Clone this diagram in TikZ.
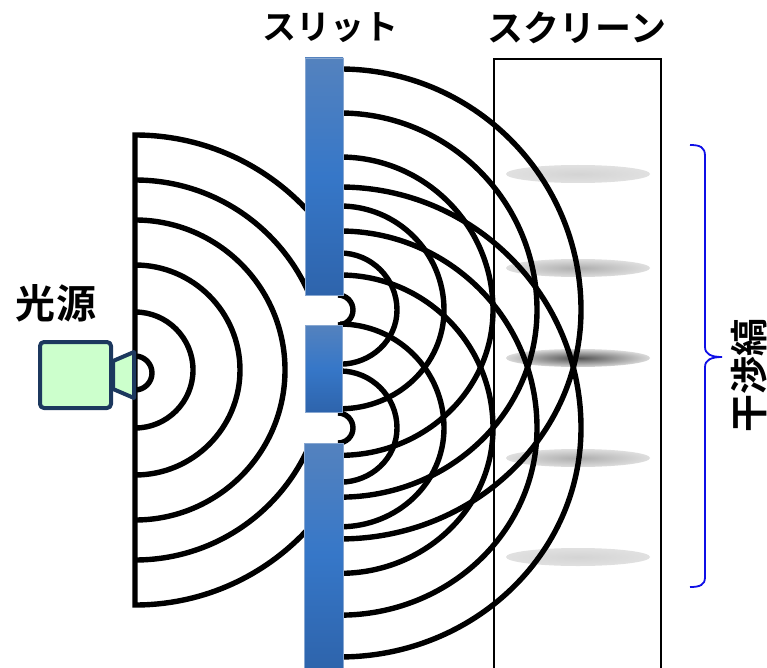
\documentclass[tikz,border=0pt]{standalone}
\usepackage{fontspec}
\newfontfamily\jpfont{Noto Sans CJK JP}[BoldFont={Noto Sans CJK JP Bold}]
\definecolor{barTop}{RGB}{84,130,190}
\definecolor{barMid}{RGB}{54,119,200}
\definecolor{barBot}{RGB}{46,100,172}
\definecolor{lampFill}{RGB}{204,255,204}
\definecolor{lampEdge}{RGB}{28,56,94}
\definecolor{braceBlue}{RGB}{15,15,230}
\begin{document}
\begin{tikzpicture}[x=1pt,y=-1pt,
  wave/.style={line width=5.4pt,black},
  barpiece/.style={top color=barTop,bottom color=barBot,middle color=barMid,draw=barTop!70!white,line width=0.8pt},
  lampbody/.style={fill=lampFill,draw=lampEdge,line width=4pt,line join=round},
  label/.style={font=\jpfont\bfseries\fontsize{34}{40}\selectfont,inner sep=0pt},
  biglabel/.style={label,font=\jpfont\bfseries\fontsize{40}{46}\selectfont},
  fringe/.style={draw=none}]
\useasboundingbox (0,0) rectangle (767,668);

% screen
\node[draw,line width=1.6pt,fill=white,minimum width=167pt,minimum height=610pt,
      inner sep=0pt,anchor=north west] (screen) at (493,58) {};

% interference fringes on the screen
\shade[fringe,inner color=black!17,outer color=black!12] (578,174) ellipse [x radius=72,y radius=9];
\shade[fringe,inner color=black!32,outer color=black!13] (578,268) ellipse [x radius=72,y radius=9];
\shade[fringe,inner color=black!68,outer color=black!15] (578,358) ellipse [x radius=72,y radius=9];
\shade[fringe,inner color=black!32,outer color=black!13] (578,458) ellipse [x radius=72,y radius=9];
\shade[fringe,inner color=black!17,outer color=black!12] (578,557) ellipse [x radius=72,y radius=9];

% wavefronts from the source, cut off at the slit plate
\begin{scope}
  \clip (0,0) rectangle (305,668);
  \draw[wave,line join=miter] (135,605) -- (135,135)
        arc[start angle=-90,end angle=90,radius=235] -- cycle;
  \foreach \r in {58,105,150,190}
    \draw[wave] (135,370-\r) arc[start angle=-90,end angle=90,radius=\r];
  \draw[wave] (135,356) arc[start angle=-90,end angle=90,radius=17];
\end{scope}

% wavefronts spreading from the two slits
\foreach \cy in {310,428} {
  \draw[wave] (338,\cy-15) arc[start angle=-90,end angle=90,radius=15];
  \foreach \r in {57,104,153,197,241}
    \draw[wave] (340,\cy-\r) arc[start angle=-90,end angle=0,radius=\r]
                arc[start angle=0,end angle=90,x radius=\r,y radius=0.95*\r];
}

% slit plate
\shade[barpiece] (305,58) rectangle (343,295);
\shade[barpiece] (305,325) rectangle (342,412);
\shade[barpiece] (304,443) rectangle (343,668);

% light source
\node[lampbody,rounded corners=4pt,minimum width=71pt,minimum height=66pt,inner sep=0pt] (lamp) at (75.5,375) {};
\draw[lampbody] (lamp.east|-0,361) -- (134,352) -- (134,398) -- (lamp.east|-0,389) -- cycle;

% labels
\node[biglabel] (srclabel) at (56,303) {光源};
\node[label] (slitlabel) at (330,28) {スリット};
\node[label,font=\jpfont\bfseries\fontsize{36}{42}\selectfont] (screenlabel) at (577,28) {スクリーン};
\node[biglabel,font=\jpfont\bfseries\fontsize{38}{44}\selectfont,rotate=90] (fringelabel) at (749,375) {干渉縞};

% brace grouping the fringes
\coordinate (bt) at (690,145);
\coordinate (bb) at (690,587);
\coordinate (tip) at (722,357);
\draw[braceBlue,line width=1.8pt]
  (bt) .. controls (700,145) and (705,147) .. (705,156) -- (705,347)
       .. controls (705,354) and (711,357) .. (tip)
       .. controls (711,357) and (705,360) .. (705,367) -- (705,577)
       .. controls (705,585) and (700,587) .. (bb);
\end{tikzpicture}
\end{document}
